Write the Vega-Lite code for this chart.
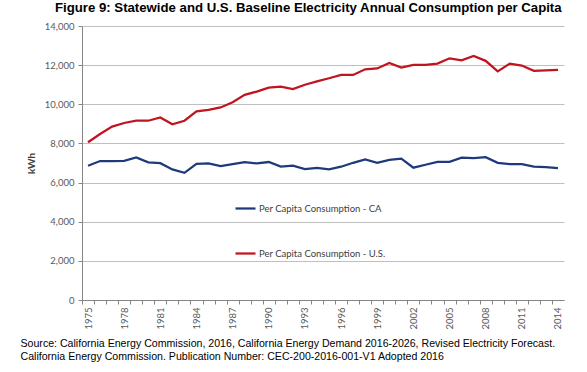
{
  "$schema": "https://vega.github.io/schema/vega-lite/v6.json",
  "width": 482,
  "height": 274,
  "autosize": "none",
  "padding": {"left": 82, "top": 26, "right": 23, "bottom": 72},
  "background": "white",
  "title": {
    "text": "Figure 9: Statewide and U.S. Baseline Electricity Annual Consumption per Capita",
    "font": "Liberation Sans",
    "fontSize": 13.2,
    "fontWeight": "bold",
    "color": "black",
    "anchor": "start",
    "dx": 35,
    "offset": 6
  },
  "data": {
    "values": [
      {"year": 1975, "series": "Per Capita Consumption - CA", "kwh": 6860},
      {"year": 1976, "series": "Per Capita Consumption - CA", "kwh": 7100},
      {"year": 1977, "series": "Per Capita Consumption - CA", "kwh": 7100},
      {"year": 1978, "series": "Per Capita Consumption - CA", "kwh": 7110},
      {"year": 1979, "series": "Per Capita Consumption - CA", "kwh": 7280},
      {"year": 1980, "series": "Per Capita Consumption - CA", "kwh": 7030},
      {"year": 1981, "series": "Per Capita Consumption - CA", "kwh": 6990},
      {"year": 1982, "series": "Per Capita Consumption - CA", "kwh": 6670},
      {"year": 1983, "series": "Per Capita Consumption - CA", "kwh": 6500},
      {"year": 1984, "series": "Per Capita Consumption - CA", "kwh": 6960},
      {"year": 1985, "series": "Per Capita Consumption - CA", "kwh": 6980},
      {"year": 1986, "series": "Per Capita Consumption - CA", "kwh": 6840},
      {"year": 1987, "series": "Per Capita Consumption - CA", "kwh": 6940},
      {"year": 1988, "series": "Per Capita Consumption - CA", "kwh": 7050},
      {"year": 1989, "series": "Per Capita Consumption - CA", "kwh": 6980},
      {"year": 1990, "series": "Per Capita Consumption - CA", "kwh": 7050},
      {"year": 1991, "series": "Per Capita Consumption - CA", "kwh": 6820},
      {"year": 1992, "series": "Per Capita Consumption - CA", "kwh": 6860},
      {"year": 1993, "series": "Per Capita Consumption - CA", "kwh": 6690},
      {"year": 1994, "series": "Per Capita Consumption - CA", "kwh": 6750},
      {"year": 1995, "series": "Per Capita Consumption - CA", "kwh": 6670},
      {"year": 1996, "series": "Per Capita Consumption - CA", "kwh": 6810},
      {"year": 1997, "series": "Per Capita Consumption - CA", "kwh": 7010},
      {"year": 1998, "series": "Per Capita Consumption - CA", "kwh": 7180},
      {"year": 1999, "series": "Per Capita Consumption - CA", "kwh": 7010},
      {"year": 2000, "series": "Per Capita Consumption - CA", "kwh": 7160},
      {"year": 2001, "series": "Per Capita Consumption - CA", "kwh": 7220},
      {"year": 2002, "series": "Per Capita Consumption - CA", "kwh": 6760},
      {"year": 2003, "series": "Per Capita Consumption - CA", "kwh": 6910},
      {"year": 2004, "series": "Per Capita Consumption - CA", "kwh": 7060},
      {"year": 2005, "series": "Per Capita Consumption - CA", "kwh": 7060},
      {"year": 2006, "series": "Per Capita Consumption - CA", "kwh": 7270},
      {"year": 2007, "series": "Per Capita Consumption - CA", "kwh": 7250},
      {"year": 2008, "series": "Per Capita Consumption - CA", "kwh": 7300},
      {"year": 2009, "series": "Per Capita Consumption - CA", "kwh": 7010},
      {"year": 2010, "series": "Per Capita Consumption - CA", "kwh": 6940},
      {"year": 2011, "series": "Per Capita Consumption - CA", "kwh": 6940},
      {"year": 2012, "series": "Per Capita Consumption - CA", "kwh": 6810},
      {"year": 2013, "series": "Per Capita Consumption - CA", "kwh": 6790},
      {"year": 2014, "series": "Per Capita Consumption - CA", "kwh": 6740},
      {"year": 1975, "series": "Per Capita Consumption - U.S.", "kwh": 8060},
      {"year": 1976, "series": "Per Capita Consumption - U.S.", "kwh": 8480},
      {"year": 1977, "series": "Per Capita Consumption - U.S.", "kwh": 8860},
      {"year": 1978, "series": "Per Capita Consumption - U.S.", "kwh": 9045},
      {"year": 1979, "series": "Per Capita Consumption - U.S.", "kwh": 9160},
      {"year": 1980, "series": "Per Capita Consumption - U.S.", "kwh": 9160},
      {"year": 1981, "series": "Per Capita Consumption - U.S.", "kwh": 9330},
      {"year": 1982, "series": "Per Capita Consumption - U.S.", "kwh": 8980},
      {"year": 1983, "series": "Per Capita Consumption - U.S.", "kwh": 9160},
      {"year": 1984, "series": "Per Capita Consumption - U.S.", "kwh": 9640},
      {"year": 1985, "series": "Per Capita Consumption - U.S.", "kwh": 9720},
      {"year": 1986, "series": "Per Capita Consumption - U.S.", "kwh": 9840},
      {"year": 1987, "series": "Per Capita Consumption - U.S.", "kwh": 10100},
      {"year": 1988, "series": "Per Capita Consumption - U.S.", "kwh": 10480},
      {"year": 1989, "series": "Per Capita Consumption - U.S.", "kwh": 10650},
      {"year": 1990, "series": "Per Capita Consumption - U.S.", "kwh": 10850},
      {"year": 1991, "series": "Per Capita Consumption - U.S.", "kwh": 10900},
      {"year": 1992, "series": "Per Capita Consumption - U.S.", "kwh": 10780},
      {"year": 1993, "series": "Per Capita Consumption - U.S.", "kwh": 11000},
      {"year": 1994, "series": "Per Capita Consumption - U.S.", "kwh": 11170},
      {"year": 1995, "series": "Per Capita Consumption - U.S.", "kwh": 11330},
      {"year": 1996, "series": "Per Capita Consumption - U.S.", "kwh": 11500},
      {"year": 1997, "series": "Per Capita Consumption - U.S.", "kwh": 11500},
      {"year": 1998, "series": "Per Capita Consumption - U.S.", "kwh": 11790},
      {"year": 1999, "series": "Per Capita Consumption - U.S.", "kwh": 11830},
      {"year": 2000, "series": "Per Capita Consumption - U.S.", "kwh": 12110},
      {"year": 2001, "series": "Per Capita Consumption - U.S.", "kwh": 11880},
      {"year": 2002, "series": "Per Capita Consumption - U.S.", "kwh": 12010},
      {"year": 2003, "series": "Per Capita Consumption - U.S.", "kwh": 12010},
      {"year": 2004, "series": "Per Capita Consumption - U.S.", "kwh": 12080},
      {"year": 2005, "series": "Per Capita Consumption - U.S.", "kwh": 12350},
      {"year": 2006, "series": "Per Capita Consumption - U.S.", "kwh": 12250},
      {"year": 2007, "series": "Per Capita Consumption - U.S.", "kwh": 12470},
      {"year": 2008, "series": "Per Capita Consumption - U.S.", "kwh": 12220},
      {"year": 2009, "series": "Per Capita Consumption - U.S.", "kwh": 11680},
      {"year": 2010, "series": "Per Capita Consumption - U.S.", "kwh": 12080},
      {"year": 2011, "series": "Per Capita Consumption - U.S.", "kwh": 11980},
      {"year": 2012, "series": "Per Capita Consumption - U.S.", "kwh": 11710},
      {"year": 2013, "series": "Per Capita Consumption - U.S.", "kwh": 11730},
      {"year": 2014, "series": "Per Capita Consumption - U.S.", "kwh": 11760}
    ]
  },
  "mark": {"type": "line", "strokeWidth": 2.25},
  "encoding": {
    "x": {
      "field": "year",
      "type": "quantitative",
      "scale": {"domain": [1974.5, 2014.5], "nice": false, "zero": false},
      "axis": {
        "values": [1975,1976,1977,1978,1979,1980,1981,1982,1983,1984,1985,1986,1987,1988,1989,1990,1991,1992,1993,1994,1995,1996,1997,1998,1999,2000,2001,2002,2003,2004,2005,2006,2007,2008,2009,2010,2011,2012,2013,2014,2015],
        "format": "d",
        "labelExpr": "(datum.value - 1975) % 3 === 0 && datum.value < 2015 ? datum.label : ''",
        "tickOffset": -6.025,
        "labelOffset": 6.025,
        "labelAngle": -90,
        "labelOverlap": false,
        "labelBound": false,
        "labelFlush": false,
        "labelFont": "Lato",
        "labelFontSize": 9.5,
        "labelColor": "#595959",
        "labelPadding": 3,
        "tickSize": 4,
        "tickColor": "#868686",
        "domainColor": "#868686",
        "grid": false,
        "title": ["Source: California Energy Commission, 2016, California Energy Demand 2016-2026, Revised Electricity Forecast.", "California Energy Commission. Publication Number: CEC-200-2016-001-V1 Adopted 2016"],
        "titleFont": "Liberation Sans",
        "titleFontSize": 10.6,
        "titleFontWeight": "normal",
        "titleColor": "black",
        "titleAnchor": "start",
        "titleAlign": "left",
        "titleBaseline": "top",
        "titleX": -62,
        "titleY": 38,
        "titleLineHeight": 13
      }
    },
    "y": {
      "field": "kwh",
      "type": "quantitative",
      "scale": {"domain": [0, 14000], "nice": false},
      "axis": {
        "values": [0, 2000, 4000, 6000, 8000, 10000, 12000, 14000],
        "format": ",d",
        "labelFont": "Lato",
        "labelFontSize": 9.5,
        "labelColor": "#595959",
        "labelPadding": 4,
        "tickSize": 4,
        "tickColor": "#868686",
        "domainColor": "#868686",
        "grid": true,
        "gridColor": "#BFBFBF",
        "title": "kWh",
        "titleFont": "Lato",
        "titleFontSize": 10,
        "titleFontWeight": "bold",
        "titleColor": "#404040",
        "titlePadding": 8
      }
    },
    "color": {
      "field": "series",
      "type": "nominal",
      "scale": {
        "domain": ["Per Capita Consumption - CA", "Per Capita Consumption - U.S."],
        "range": ["#1F3A7C", "#C0151F"]
      },
      "legend": {
        "orient": "none",
        "legendX": 152,
        "legendY": 171,
        "direction": "vertical",
        "title": null,
        "symbolType": "stroke",
        "symbolSize": 400,
        "symbolStrokeWidth": 2.25,
        "rowPadding": 29,
        "labelFont": "Lato",
        "labelFontSize": 9.5,
        "labelColor": "#404040",
        "labelOffset": 2,
        "padding": 0
      }
    }
  },
  "config": {"view": {"stroke": null}}
}
